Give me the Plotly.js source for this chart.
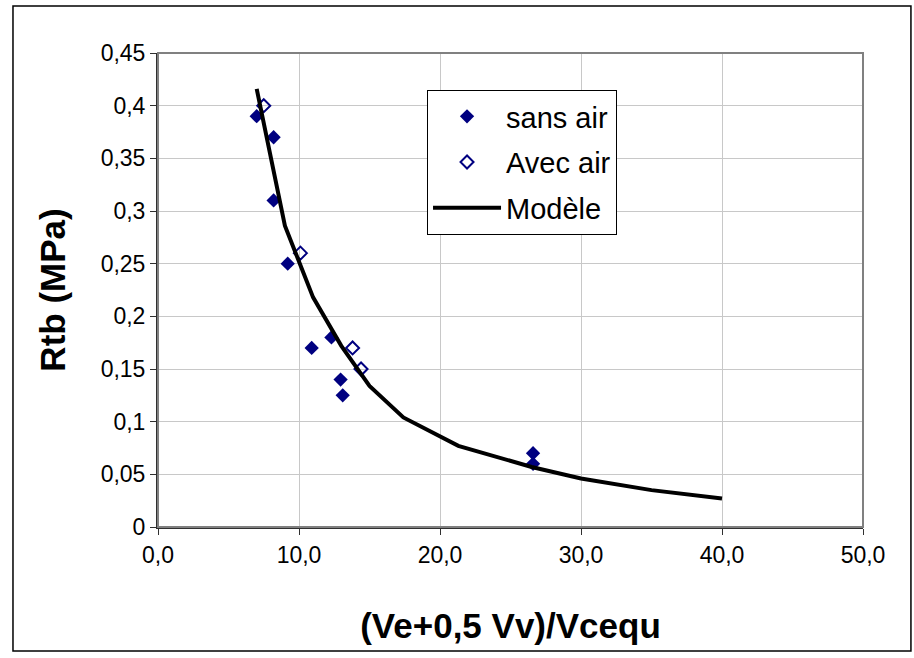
<!DOCTYPE html>
<html>
<head>
<meta charset="utf-8">
<script src="https://cdn.plot.ly/plotly-3.0.1.min.js"></script>
<style>
  html, body { margin: 0; padding: 0; background: #fff; }
  #chart { width: 914px; height: 658px; }
</style>
</head>
<body>
<div id="chart"></div>
<script>
// Tensile strength measurements, without and with entrained air
const sansAirX = [7.0, 8.2, 8.2, 9.2, 10.9, 12.3, 12.95, 13.1, 26.6, 26.6];
const sansAirY = [0.39, 0.37, 0.31, 0.25, 0.17, 0.18, 0.14, 0.125, 0.07, 0.06];
const avecAirX = [7.5, 10.1, 13.8, 14.4];
const avecAirY = [0.40, 0.26, 0.17, 0.15];

// Model curve
const modeleX = [7.0, 9.0, 11.0, 13.0, 15.0, 17.4, 21.3, 26.5, 30.0, 35.0, 40.0];
const modeleY = [0.416, 0.286, 0.218, 0.172, 0.134, 0.104, 0.077, 0.057, 0.046, 0.035, 0.027];

const navy = '#000080';

const traces = [
  {
    x: sansAirX, y: sansAirY, name: 'sans air', type: 'scatter', mode: 'markers',
    legendgroup: 'a',
    marker: { symbol: 'diamond', size: 11, color: navy, line: { width: 0 } }
  },
  {
    x: avecAirX, y: avecAirY, name: 'Avec air', type: 'scatter', mode: 'markers',
    legendgroup: 'b',
    marker: { symbol: 'diamond-open', size: 10, color: navy, line: { width: 2, color: navy } }
  },
  {
    x: modeleX, y: modeleY, name: 'Modèle', type: 'scatter', mode: 'lines',
    legendgroup: 'c',
    line: { color: '#000000', width: 4 }
  }
];

const font = 'Liberation Sans, Arial, sans-serif';

const layout = {
  width: 914, height: 658,
  margin: { l: 158, r: 51, t: 53, b: 131 },
  paper_bgcolor: '#ffffff',
  plot_bgcolor: '#ffffff',
  separators: ', ',
  font: { family: font, color: '#000000', size: 23 },
  showlegend: true,
  legend: {
    x: 0.3816, y: 0.922, xanchor: 'left', yanchor: 'top',
    bgcolor: '#ffffff', bordercolor: '#000000', borderwidth: 1,
    font: { family: font, size: 29, color: '#000000' },
    tracegroupgap: 5,
    itemwidth: 68
  },
  xaxis: {
    range: [0, 50], dtick: 10, tick0: 0, tickformat: '.1f',
    showgrid: true, gridcolor: '#c8c8c8', gridwidth: 1,
    zeroline: false,
    showline: true, linecolor: '#303030', linewidth: 2,
    ticks: 'outside', ticklen: 6, tickcolor: '#303030', tickwidth: 1,
    tickfont: { family: font, size: 23, color: '#000000' },
    title: { text: '<b>(Ve+0,5 Vv)/Vcequ</b>', font: { family: font, size: 35, color: '#000000' }, standoff: 47 }
  },
  yaxis: {
    range: [0, 0.45], dtick: 0.05, tick0: 0,
    showgrid: true, gridcolor: '#c8c8c8', gridwidth: 1,
    zeroline: false,
    showline: true, linecolor: '#303030', linewidth: 2,
    ticks: 'outside', ticklen: 6, tickcolor: '#303030', tickwidth: 1,
    tickfont: { family: font, size: 23, color: '#000000' },
    title: { text: '<b>Rtb (MPa)</b>', font: { family: font, size: 35, color: '#000000' }, standoff: 24 }
  },
  shapes: [
    // plot area frame
    { type: 'rect', xref: 'paper', yref: 'paper', x0: 0, x1: 1, y0: 0, y1: 1,
      line: { color: '#808080', width: 2 }, fillcolor: 'rgba(0,0,0,0)', layer: 'above' },
    // outer chart frame
    { type: 'rect', xref: 'paper', yref: 'paper', x0: -0.2057, x1: 1.068, y0: -0.2616, y1: 1.099,
      line: { color: '#000000', width: 1.5 }, fillcolor: 'rgba(0,0,0,0)' }
  ]
};

Plotly.newPlot('chart', traces, layout, { displayModeBar: false, staticPlot: true });
</script>
</body>
</html>
